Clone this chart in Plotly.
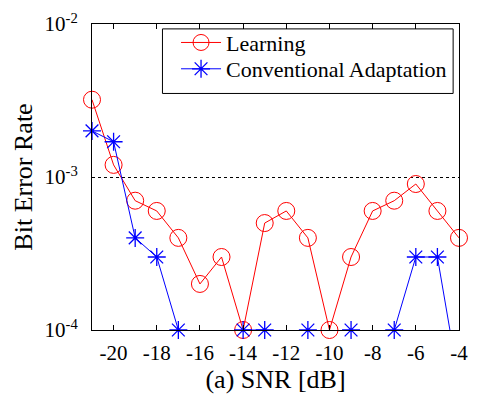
import plotly.graph_objects as go

snr = [-21, -20, -19, -18, -17, -16, -15, -14, -13, -12, -11, -10, -9, -8, -7, -6, -5, -4]
learning = [3.2e-3, 1.2e-3, 7e-4, 6e-4, 4e-4, 2e-4, 3e-4, 1e-4, 5e-4, 6e-4, 4e-4, 1e-4,
            3e-4, 6e-4, 7e-4, 9e-4, 6e-4, 4e-4]
conventional = [2e-3, 1.7e-3, 4e-4, 3e-4, 1e-4, None, None, 1e-4, 1e-4, None, 1e-4, None,
                1e-4, None, 1e-4, 3e-4, 3e-4, 4.5e-5]

x_ticks = [-20, -18, -16, -14, -12, -10, -8, -6, -4]
x_ticktext = ["-20", "-18", "-16", "-14", "-12", "-10", "-8", "-6", "-4"]
y_ticks = [1e-4, 1e-3, 1e-2]
y_ticktext = ["10<sup>-4</sup>", "10<sup>-3</sup>", "10<sup>-2</sup>"]

FONT = "Liberation Serif, Times New Roman, serif"

fig = go.Figure()
fig.add_trace(go.Scatter(
    x=snr, y=learning, name="Learning", mode="lines+markers",
    line=dict(color="#ff0000", width=1),
    marker=dict(symbol="circle-open", size=17, color="#ff0000", line=dict(width=1)),
    cliponaxis=False, legend="legend",
))
fig.add_trace(go.Scatter(
    x=snr, y=conventional, name="Conventional Adaptation", mode="lines+markers",
    line=dict(color="#0000ff", width=1),
    marker=dict(symbol="asterisk-open", size=15, color="#0000ff", line=dict(width=1.3, color="#0000ff")),
    connectgaps=False, cliponaxis=False, legend="legend2",
))

# plot area: left 92, width 376; top 17, height 313
leg_common = dict(
    xanchor="left", yanchor="middle",
    borderwidth=0, bgcolor="rgba(0,0,0,0)",
    font=dict(family=FONT, size=22), itemwidth=40,
)

fig.update_layout(
    width=478, height=398,
    margin=dict(l=92, r=10, t=17, b=68),
    paper_bgcolor="white", plot_bgcolor="white",
    font=dict(family=FONT, size=21, color="black"),
    showlegend=True,
    legend=dict(x=0.229, y=0.939, **leg_common),
    legend2=dict(x=0.229, y=0.853, **leg_common),
    shapes=[dict(
        type="rect", xref="paper", yref="paper",
        x0=0.192, x1=0.984, y0=0.773, y1=0.984,
        line=dict(color="black", width=1), fillcolor="white", layer="below",
    )],
    xaxis=dict(
        range=[-21, -4], tickvals=x_ticks, ticktext=x_ticktext,
        ticks="inside", ticklen=5, tickcolor="black", ticklabelstandoff=4,
        showline=True, linecolor="black", linewidth=1, mirror="ticks",
        showgrid=False, zeroline=False,
        title=dict(text="(a) SNR [dB]", font=dict(family=FONT, size=26), standoff=3),
        tickfont=dict(family=FONT, size=21),
    ),
    yaxis=dict(
        type="log", range=[-4, -2], tickvals=y_ticks, ticktext=y_ticktext,
        ticks="", ticklabelstandoff=9,
        showline=True, linecolor="black", linewidth=1, mirror=True,
        showgrid=True, gridcolor="black", gridwidth=1, griddash="dot",
        zeroline=False,
        title=dict(text="Bit Error Rate", font=dict(family=FONT, size=26), standoff=4),
        tickfont=dict(family=FONT, size=21),
    ),
)

fig.write_html("out.html")
